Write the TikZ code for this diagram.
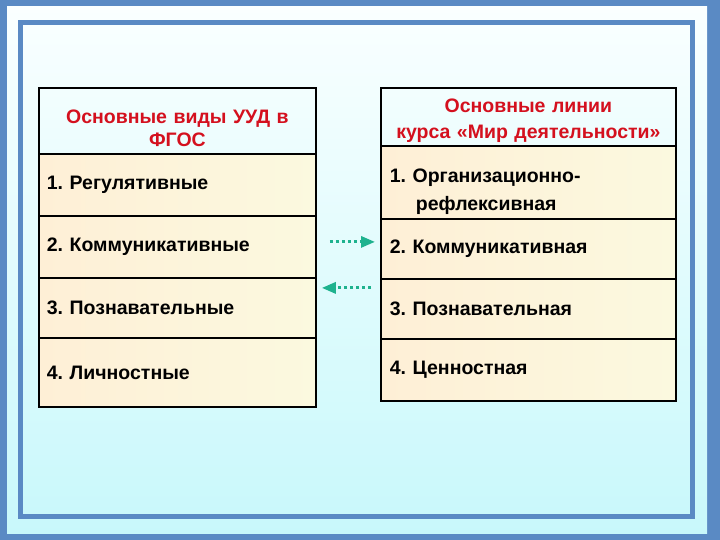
\documentclass[tikz,border=0pt]{standalone}
\usepackage{fontspec}
\setmainfont{Liberation Sans}
\usetikzlibrary{arrows.meta,positioning}
\definecolor{ramkaSin}{HTML}{5A8AC4}
\definecolor{fonVerh}{HTML}{FAFFFF}
\definecolor{fonNiz}{HTML}{C8F8FB}
\definecolor{kremL}{HTML}{FEEFD6}
\definecolor{kremR}{HTML}{FBF9DF}
\definecolor{zagKrasn}{HTML}{D4101E}
\definecolor{strelka}{HTML}{1EB28E}
\frenchspacing

\begin{document}
\begin{tikzpicture}[x=1pt,y=-1pt, every node/.style={font=\fontsize{19.5}{23}\selectfont\bfseries},
  yach/.style={draw=black,line width=1.8pt,left color=kremL,right color=kremR,
               anchor=north west,align=left,inner xsep=8pt,inner ysep=0pt},
  shapka/.style={draw=black,line width=1.8pt,anchor=north west,align=center,
                 text=zagKrasn,inner sep=0pt},
  strel/.style={strelka,line width=3pt,dash pattern=on 3pt off 3pt,
                -{Triangle[length=14pt,width=11pt]}}]
% fon i ramka
\fill[ramkaSin] (0,0) rectangle (720,540);
\useasboundingbox (0,0) rectangle (720,540);
\shade[top color=fonVerh,bottom color=fonNiz] (7,7) rectangle (707,533);
\draw[ramkaSin,line width=5pt] (20.5,22.5) rectangle (692.5,516.5);
% levaya tablica
\node[shapka,text width=277pt,minimum height=66pt] (lz) at (38,87) {\mbox{}\\[6pt]Основные виды УУД в\\ФГОС};
\node[yach,text width=261pt,minimum height=62pt] (l1) at (38,153) {1. Регулятивные};
\node[yach,text width=261pt,minimum height=62pt] (l2) at (38,215) {2. Коммуникативные};
\node[yach,text width=261pt,minimum height=60pt] (l3) at (38,277) {3. Познавательные};
\node[yach,text width=261pt,minimum height=69pt] (l4) at (38,337) {4. Личностные};
% pravaya tablica
\node[shapka,text width=295pt,minimum height=58pt] (rz) at (380,87) {\mbox{}\\[-1pt]Основные линии\\[3pt]курса «Мир деятельности»};
\node[yach,text width=277pt,minimum height=73pt,inner xsep=9pt] (r1) at (380,145) {\mbox{}\\[9pt]1. Организационно-\\[5pt]\hspace*{26pt}рефлексивная};
\node[yach,text width=277pt,minimum height=60pt,inner xsep=9pt] (r2) at (380,218) {2. Коммуникативная};
\node[yach,text width=277pt,minimum height=60pt,inner xsep=9pt] (r3) at (380,278) {3. Познавательная};
\node[yach,text width=277pt,minimum height=62pt,inner xsep=9pt] (r4) at (380,338) {4. Ценностная};
% strelki
\draw[strel] ([xshift=13pt,yshift=5pt]l2.east) -- ([xshift=-5pt,yshift=7pt]r2.west);
\draw[strel] ([xshift=-9pt,yshift=21pt]r3.west) -- ([xshift=5pt,yshift=20pt]l3.east);
\end{tikzpicture}
\end{document}
